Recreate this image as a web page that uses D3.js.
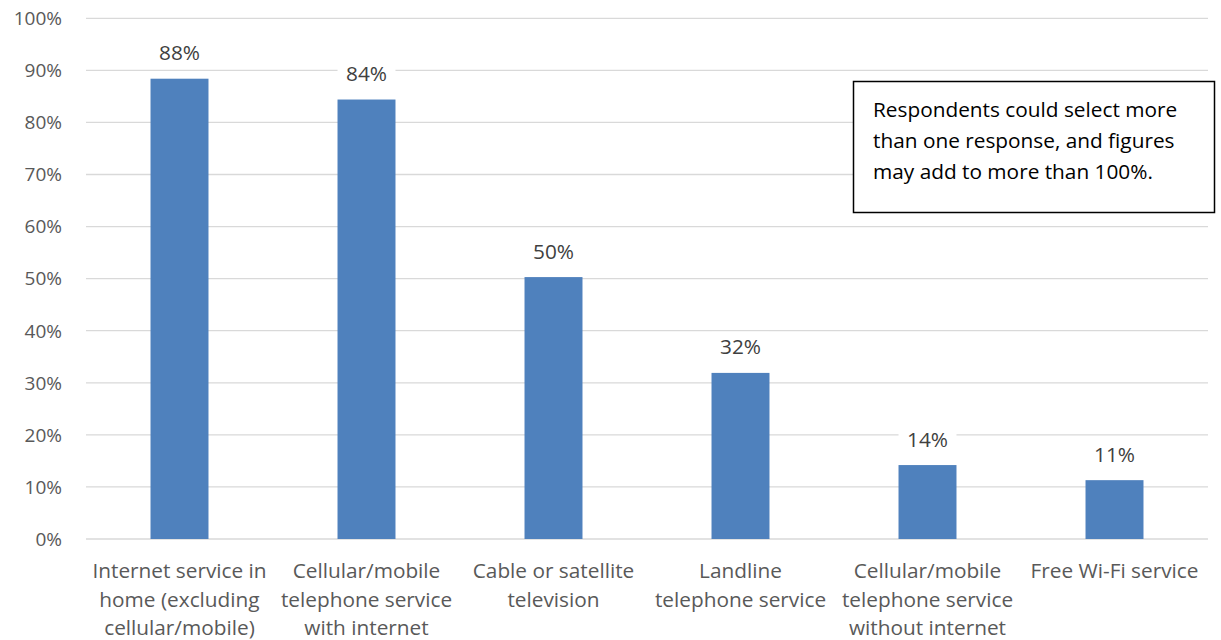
<!DOCTYPE html>
<html>
<head>
<meta charset="utf-8">
<script src="https://cdn.jsdelivr.net/npm/d3@7"></script>
<style>
  html, body { margin: 0; padding: 0; background: #fff; }
  svg { display: block; }
  text { font-family: "Open Sans", Lato, sans-serif; }
</style>
</head>
<body>
<svg id="chart" width="1221" height="640"></svg>
<script>
// ---- data ----
const categories = [
  "Internet service in\nhome (excluding\ncellular/mobile)",
  "Cellular/mobile\ntelephone service\nwith internet",
  "Cable or satellite\ntelevision",
  "Landline\ntelephone service",
  "Cellular/mobile\ntelephone service\nwithout internet",
  "Free Wi-Fi service"
];
const values = [88.4, 84.4, 50.3, 31.9, 14.2, 11.3];
const valueLabels = ["88%", "84%", "50%", "32%", "14%", "11%"];
const yTicks = [0, 10, 20, 30, 40, 50, 60, 70, 80, 90, 100];
const yTickLabels = ["0%", "10%", "20%", "30%", "40%", "50%", "60%", "70%", "80%", "90%", "100%"];
const noteLines = [
  "Respondents could select more",
  "than one response, and figures",
  "may add to more than 100%."
];

// ---- layout ----
const FS_TICK = 19;
const FS = 20.8;
const svg = d3.select("#chart");
const plot = { left: 86, right: 1208, top: 18.3, bottom: 539 };

const x = d3.scaleBand()
  .domain(categories)
  .range([plot.left, plot.right])
  .paddingInner(0.69)
  .paddingOuter(0.345);

const y = d3.scaleLinear()
  .domain([0, 100])
  .range([plot.bottom, plot.top]);

// gridlines
svg.append("g")
  .selectAll("line")
  .data(yTicks)
  .join("line")
  .attr("x1", plot.left)
  .attr("x2", plot.right)
  .attr("y1", d => y(d))
  .attr("y2", d => y(d))
  .attr("stroke", "#d9d9d9")
  .attr("stroke-width", 1.3);

// y tick labels
svg.append("g")
  .selectAll("text")
  .data(yTicks)
  .join("text")
  .attr("x", 62)
  .attr("y", d => y(d))
  .attr("dy", "0.36em")
  .attr("text-anchor", "end")
  .attr("font-size", FS_TICK)
  .attr("fill", "#595959")
  .text((d, i) => yTickLabels[i]);

// bars
svg.append("g")
  .selectAll("rect")
  .data(values)
  .join("rect")
  .attr("x", (d, i) => x(categories[i]))
  .attr("width", x.bandwidth())
  .attr("y", d => y(d))
  .attr("height", d => y(0) - y(d))
  .attr("fill", "#4f81bd");

// value labels with white backgrounds
const lbl = svg.append("g")
  .selectAll("g")
  .data(values)
  .join("g")
  .attr("transform", (d, i) => `translate(${x(categories[i]) + x.bandwidth() / 2},${y(d) - 26})`);

lbl.append("rect")
  .attr("x", -x.bandwidth() / 2)
  .attr("y", -15)
  .attr("width", x.bandwidth())
  .attr("height", 30)
  .attr("fill", "#fff");

lbl.append("text")
  .attr("text-anchor", "middle")
  .attr("dy", "0.36em")
  .attr("font-size", FS)
  .attr("fill", "#404040")
  .text((d, i) => valueLabels[i]);

// category labels
const cat = svg.append("g")
  .selectAll("text")
  .data(categories)
  .join("text")
  .attr("x", d => x(d) + x.bandwidth() / 2)
  .attr("y", 578)
  .attr("text-anchor", "middle")
  .attr("font-size", FS)
  .attr("fill", "#595959");

cat.selectAll("tspan")
  .data(d => d.split("\n"))
  .join("tspan")
  .attr("x", function () { return d3.select(this.parentNode).attr("x"); })
  .attr("dy", (d, i) => i === 0 ? 0 : 28.5)
  .text(d => d);

// annotation box
const note = svg.append("g");
note.append("rect")
  .attr("x", 853.5)
  .attr("y", 81.5)
  .attr("width", 361)
  .attr("height", 131)
  .attr("fill", "#fff")
  .attr("stroke", "#000")
  .attr("stroke-width", 1.5);

note.selectAll("text")
  .data(noteLines)
  .join("text")
  .attr("x", 873)
  .attr("y", (d, i) => 110 + i * 31)
  .attr("dy", "0.36em")
  .attr("font-size", FS)
  .attr("fill", "#000")
  .text(d => d);
</script>
</body>
</html>
